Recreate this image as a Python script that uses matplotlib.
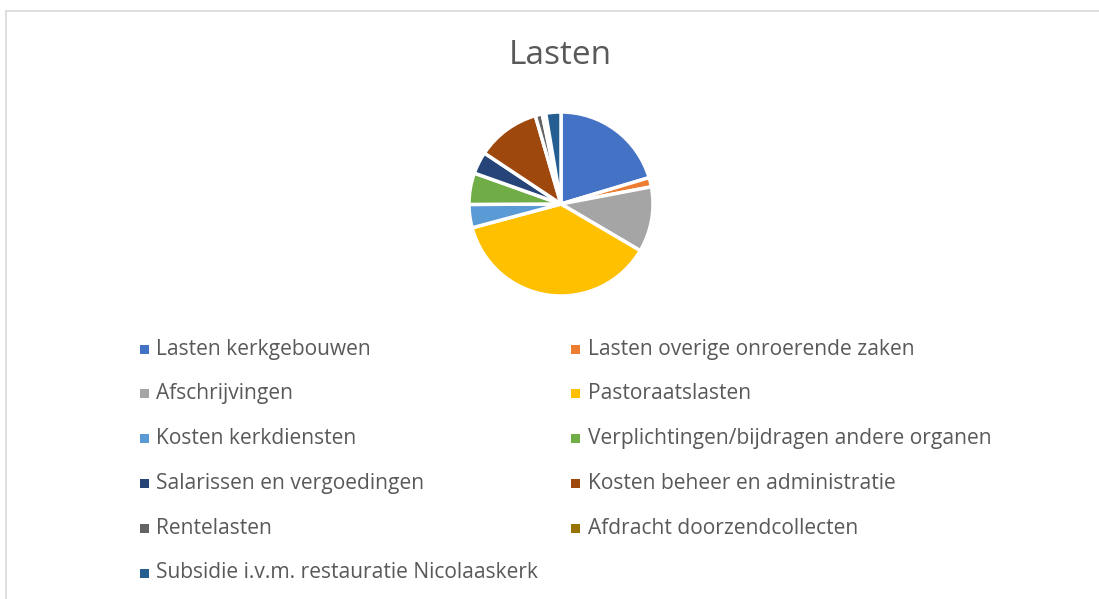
import matplotlib
matplotlib.use("Agg")
import matplotlib.pyplot as plt
from matplotlib.patches import Rectangle
from matplotlib.lines import Line2D

labels = [
    "Lasten kerkgebouwen",
    "Lasten overige onroerende zaken",
    "Afschrijvingen",
    "Pastoraatslasten",
    "Kosten kerkdiensten",
    "Verplichtingen/bijdragen andere organen",
    "Salarissen en vergoedingen",
    "Kosten beheer en administratie",
    "Rentelasten",
    "Afdracht doorzendcollecten",
    "Subsidie i.v.m. restauratie Nicolaaskerk",
]
values = [19.9, 1.6, 11.2, 36.5, 4.0, 5.4, 3.8, 10.9, 1.2, 0.6, 2.6]
colors = ["#4472C4", "#ED7D31", "#A5A5A5", "#FFC000", "#5B9BD5", "#70AD47",
          "#264478", "#9E480E", "#636363", "#997300", "#255E91"]

W, H = 1099, 599
fig = plt.figure(figsize=(W / 100, H / 100), dpi=100)
plt.rcParams['font.family'] = ['Open Sans', 'DejaVu Sans']
txtc = "#595959"

# border
fig.add_artist(Line2D([6 / W, 1], [1 - 11 / H, 1 - 11 / H], color="#D9D9D9", lw=1.2))
fig.add_artist(Line2D([6 / W, 6 / W], [0, 1 - 11 / H], color="#D9D9D9", lw=1.2))

fig.text(560 / W, 1 - 56 / H, "Lasten", ha="center", va="center", fontsize=24,
         color=txtc)

cx, cy, r = 561, 204, 92
half = 100
ax = fig.add_axes([(cx - half) / W, 1 - (cy + half) / H, 2 * half / W, 2 * half / H])
ax.pie(values, colors=colors, startangle=90, counterclock=False, radius=1,
       wedgeprops=dict(edgecolor="white", linewidth=2.5))
lim = half / r
ax.set_xlim(-lim, lim)
ax.set_ylim(-lim, lim)
ax.set_aspect("equal")
ax.axis("off")

for i, (lab, col) in enumerate(zip(labels, colors)):
    c, row = i % 2, i // 2
    mx = 144 if c == 0 else 575
    tx = 156 if c == 0 else 588
    y = 349 + row * 44.8
    fig.add_artist(Rectangle(((mx - 4.5) / W, 1 - (y + 4.5) / H), 9 / W, 9 / H,
                             transform=fig.transFigure, color=col, lw=0))
    fig.text(tx / W, 1 - y / H, lab, ha="left", va="center", fontsize=15.1, color=txtc)

fig.savefig("out.png", dpi=100, facecolor="white")
